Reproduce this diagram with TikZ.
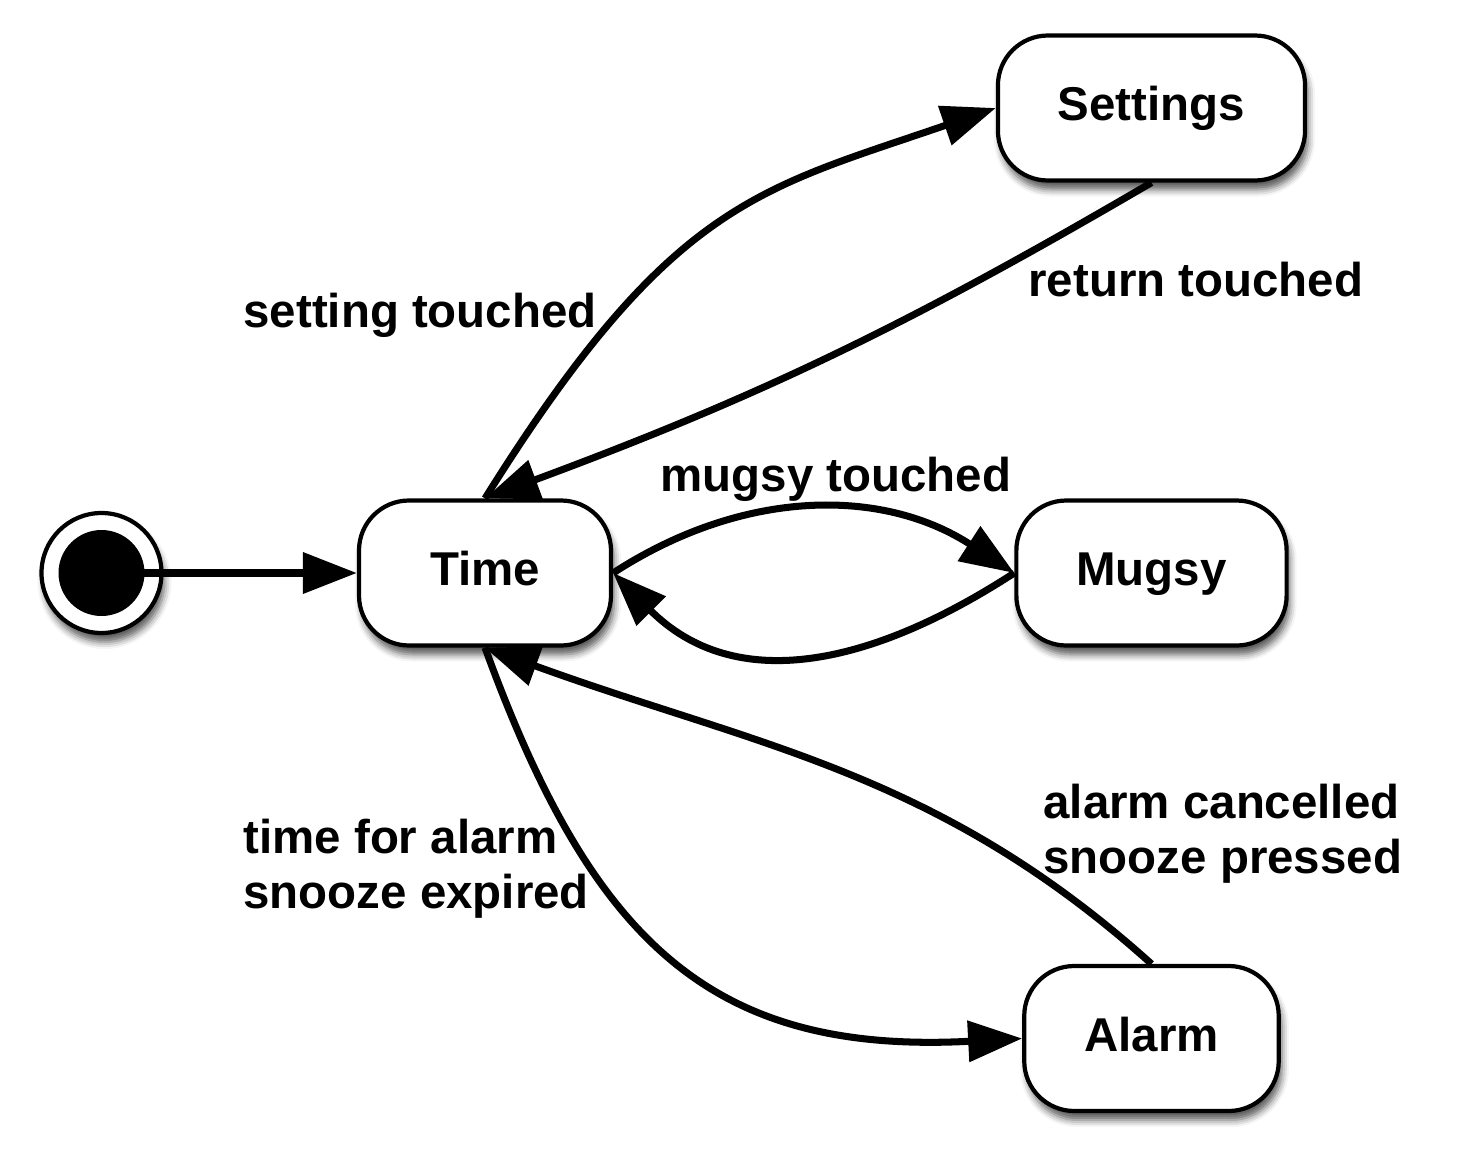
\documentclass[tikz,border=0pt]{standalone}
\usepackage{fontspec}
\setmainfont{Liberation Sans}
\usetikzlibrary{arrows.meta,shadows.blur}

\begin{document}
\begin{tikzpicture}[->, >={Triangle[length=0.54cm,width=0.40cm]}, node distance=3.835cm, line width=2pt,
    mode/.style={rectangle, rounded corners=0.5cm, draw, line width=1.2pt, fill=white,
        minimum width=2.52cm, minimum height=1.45cm, inner xsep=0.6cm,
        text height=0.72em, text depth=0pt,
        blur shadow={shadow xshift=0.3mm, shadow yshift=-0.9mm, shadow blur radius=0.7mm, shadow opacity=65},
        font=\fontsize{13.5pt}{15.6pt}\selectfont\bfseries},
    start/.style={circle, draw, line width=1.2pt, fill=white, minimum size=1.2cm,
        blur shadow={shadow xshift=0.3mm, shadow yshift=-0.9mm, shadow blur radius=0.7mm, shadow opacity=65}},
    dot/.style={circle, fill, inner sep=0pt, minimum size=0.86cm},
    lbl/.style={inner sep=0pt, align=left, font=\fontsize{13.5pt}{15.6pt}\selectfont\bfseries}]
    \useasboundingbox (0,0) rectangle (14.68,-11.54);

    % States
    \node[start] (init) at (1.015,-5.73) {};
    \node[dot] (initdot) at (init) {};
    \node[mode, right of=init] (time) {Time};
    \node[mode, right of=time, node distance=6.665cm] (mugsy) {Mugsy};
    \node[mode, above of=mugsy, node distance=4.65cm] (settings) {Settings};
    \node[mode, below of=mugsy, node distance=4.655cm] (alarm) {Alarm};

    % Transitions
    \path (init.center) edge (time);
    \path (time.north) edge[out=58, in=199, out looseness=1.4, in looseness=1.0] (settings.west);
    \path (settings.south) edge[bend left=5] (time.north);
    \path (time.east) edge[bend left=33] (mugsy.west);
    \path (mugsy.west) edge[out=213, in=-45, looseness=1.1] (time.east);
    \path (alarm.north) edge[out=138, in=-20] (time.south);
    \path (time.south) edge[out=-70, in=183, looseness=1.2] (alarm.west);

    % Labels
    \node[lbl, anchor=base west] (lset) at (2.40,-3.27) {setting touched};
    \node[lbl, anchor=base west] (lret) at (10.25,-2.96) {return touched};
    \node[lbl, anchor=base west] (lmug) at (6.57,-4.91) {mugsy touched};
    \node[lbl, anchor=west] (ltime) at (2.40,-8.69) {time for alarm\\snooze expired};
    \node[lbl, anchor=west] (lalarm) at (10.40,-8.34) {alarm cancelled\\snooze pressed};

\end{tikzpicture}
\end{document}
